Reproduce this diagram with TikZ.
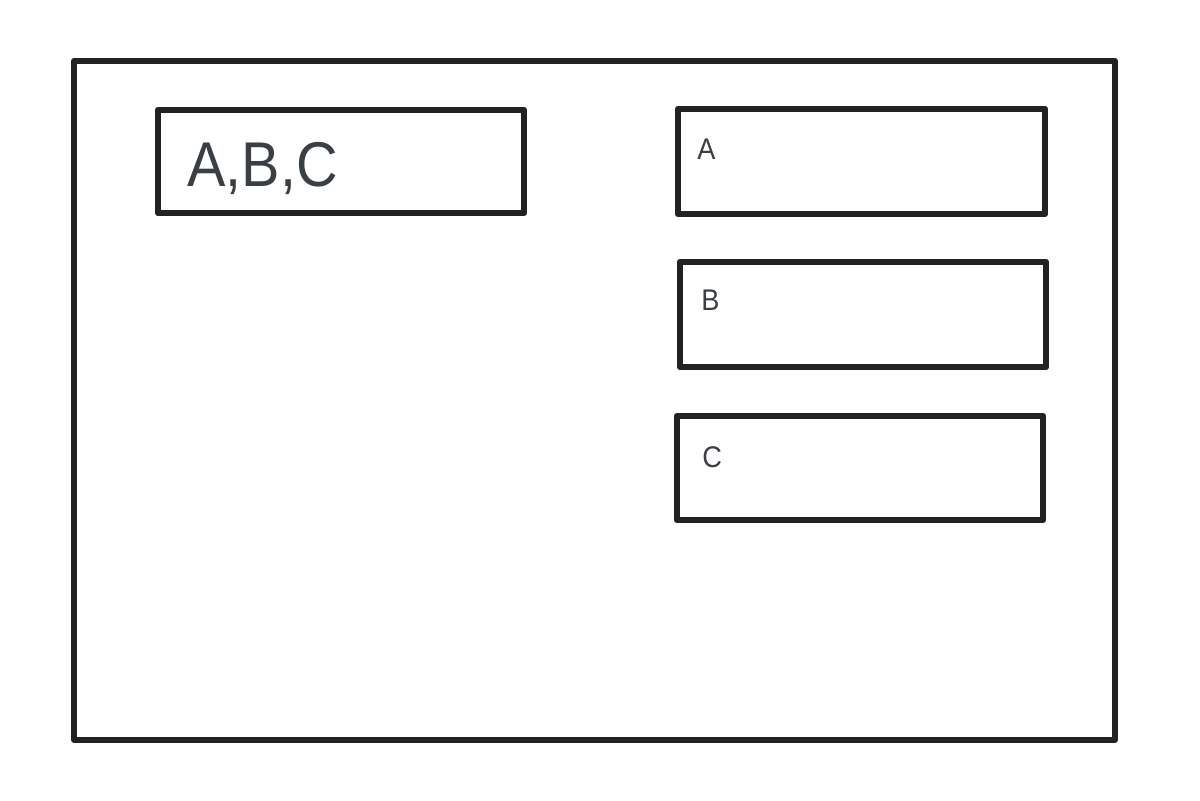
\documentclass[tikz,border=0pt]{standalone}
\usepackage{fontspec}
\setmainfont{Liberation Sans}
\newfontfamily\narrowf[FakeStretch=0.91]{Liberation Sans}
\definecolor{linec}{HTML}{222222}
\definecolor{textc}{HTML}{3A3F44}
\begin{document}
\begin{tikzpicture}[x=0.02cm,y=-0.02cm,
  frame/.style={draw=linec,line width=3.3pt,line join=round},
  box/.style={draw=linec,line width=3.7pt,line join=round},
  big/.style={anchor=base west,inner sep=0pt,text=textc,font=\narrowf\fontsize{36}{40}\selectfont},
  small/.style={anchor=base west,inner sep=0pt,text=textc,font=\narrowf\fontsize{17}{20}\selectfont}]
\useasboundingbox (0,0) rectangle (1200,801);
\fill[white] (0,0) rectangle (1200,801);
\draw[frame] (74,61) rectangle (1115,740);
\draw[box] (158,110) rectangle (524,213);
\node[big] (abc) at (187,186) {A,B,C};
\draw[box] (678,109) rectangle (1045,214);
\node[small] (a) at (697,159) {A};
\draw[box] (680,262) rectangle (1046,367);
\node[small] (b) at (701,310) {B};
\draw[box] (677,416) rectangle (1043,520);
\node[small] (c) at (702,467) {C};
\end{tikzpicture}
\end{document}
